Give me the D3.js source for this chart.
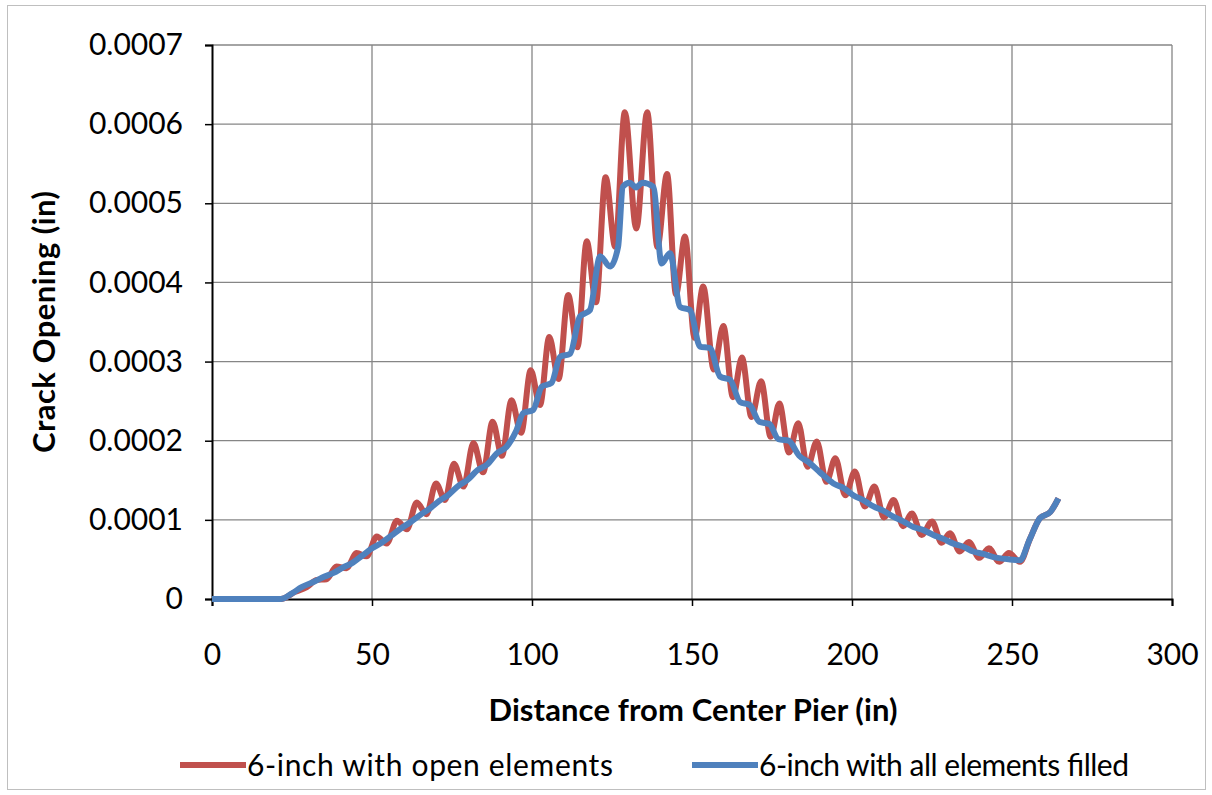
<!DOCTYPE html>
<html>
<head>
<meta charset="utf-8">
<script src="https://cdn.jsdelivr.net/npm/d3@7"></script>
<style>
  body { margin: 0; background: #fff; }
  svg { display: block; }
  text { font-family: Lato, "Liberation Sans", sans-serif; fill: #000; }
</style>
</head>
<body>
<svg width="1212" height="795"></svg>
<script>
// Red series: 6-inch with open elements (distance in, crack opening in)
const openX = [0, 21.5, 26, 29.6, 32.7, 35.8, 38.9, 42, 45.2, 48.3, 51.5, 54.6, 57.8, 60.9, 64, 67, 70, 72.8,
  75.6, 78.6, 81.7, 84.7, 87.7, 90.6, 93.6, 96.6, 99.6, 102.5, 105.4, 108.3, 111.3, 114.2, 117.1, 120,
  123, 126, 129, 132.6, 136, 139.2, 142.2, 145, 147.8, 150.8, 153.5, 156.8, 159.8, 162.8, 165.6, 168.6,
  171.6, 174.6, 177.3, 180.3, 183.2, 186.1, 189, 192, 194.8, 197.9, 200.9, 204, 207, 210, 213, 216,
  218.7, 221.8, 225, 228, 230.6, 233.7, 236.5, 239.8, 242.8, 246, 249, 252.5, 255.5, 258.7, 262, 264.5];
const openY = [0, 0, 0.000009, 0.000015, 0.000024, 0.000025, 0.000041, 0.000039, 0.000058, 0.000054, 0.000079, 0.00007,
  0.000099, 0.000088, 0.000122, 0.000107, 0.000146, 0.000125, 0.000171, 0.000142, 0.000197, 0.00016,
  0.000224, 0.000181, 0.000251, 0.00021, 0.000289, 0.000245, 0.000331, 0.000278, 0.000384, 0.000318,
  0.000452, 0.000375, 0.000533, 0.000445, 0.000615, 0.000468, 0.000615, 0.000445, 0.000537, 0.000385,
  0.000458, 0.00033, 0.000395, 0.00029, 0.000345, 0.000255, 0.000305, 0.00023, 0.000275, 0.000205,
  0.000247, 0.000185, 0.000222, 0.000167, 0.000199, 0.000148, 0.000178, 0.000131, 0.000161, 0.000117,
  0.000142, 0.000103, 0.000125, 0.000092, 0.000108, 0.000081, 0.000098, 0.000071, 0.000083, 0.00006,
  0.000072, 0.000052, 0.000064, 0.000047, 0.000058, 0.000047, 0.000075, 0.000102, 0.00011, 0.000127];

// Blue series: 6-inch with all elements filled
const filledX = [0, 21.5, 25, 28, 32, 35, 38, 41, 44, 47, 50, 53, 56, 59, 62, 65, 68, 71, 74, 77, 80, 83, 86,
  89, 92, 95, 97.3, 100.4, 103, 106.1, 108.8, 111.9, 115, 118.1, 121.3, 124.4, 126.9, 128.4, 130.5,
  132.5, 134.5, 137.9, 140.5, 143.1, 146.3, 149.4, 152.5, 155.6, 158.8, 161.9, 165, 168.1, 171, 174.2,
  177, 180.2, 183.5, 186.7, 190, 194.2, 197.5, 200.4, 203.5, 206.7, 210, 212.9, 216, 219.2, 222.3,
  225.4, 228.5, 231.7, 234.8, 237.9, 241, 244.2, 247, 249.4, 252.5, 255.5, 258.7, 262, 264.5];
const filledY = [0, 0, 0.000007, 0.000015, 0.000022, 0.000028, 0.000033, 0.00004, 0.000046, 0.000055, 0.000064,
  0.000071, 0.00008, 0.000089, 0.000097, 0.000106, 0.000114, 0.000124, 0.000132, 0.000143, 0.000151,
  0.000163, 0.00017, 0.000184, 0.000192, 0.000212, 0.000235, 0.000239, 0.000268, 0.000273, 0.000306,
  0.00031, 0.000357, 0.000365, 0.000433, 0.00042, 0.000445, 0.000521, 0.000526, 0.00052, 0.000526,
  0.000521, 0.000424, 0.000437, 0.000369, 0.000365, 0.000319, 0.000317, 0.000281, 0.000277, 0.000249,
  0.000245, 0.000224, 0.000221, 0.000202, 0.0002, 0.000181, 0.000172, 0.00016, 0.000146, 0.00014,
  0.000131, 0.000125, 0.000117, 0.000111, 0.000104, 0.000098, 0.000091, 0.000087, 0.000081, 0.000076,
  0.00007, 0.000066, 0.00006, 0.000057, 0.000053, 0.000051, 0.00005, 0.000049, 0.000075, 0.000102,
  0.00011, 0.000127];

const xTicks = [0, 50, 100, 150, 200, 250, 300];
const yTicks = [0, 0.0001, 0.0002, 0.0003, 0.0004, 0.0005, 0.0006, 0.0007];
const seriesNames = ["6-inch with open elements", "6-inch with all elements filled"];
const seriesColors = ["#C0504D", "#4F81BD"];

const svg = d3.select('svg');

// outer chart border
svg.append('rect')
  .attr('x', 7.5).attr('y', 5.5)
  .attr('width', 1198).attr('height', 784)
  .attr('fill', 'none').attr('stroke', '#BFBFBF').attr('stroke-width', 1);

// plot area
const plotLeft = 212, plotTop = 45, width = 960, height = 554;
const chart = svg.append('g').attr('transform', `translate(${plotLeft},${plotTop})`);

const xScale = d3.scaleLinear().domain([0, 300]).range([0, width]);
const yScale = d3.scaleLinear().domain([0, 0.0007]).range([height, 0]);

// gridlines
chart.append('g')
  .selectAll('line.h')
  .data(yTicks.slice(1))
  .join('line')
  .attr('x1', 0).attr('x2', width)
  .attr('y1', d => yScale(d)).attr('y2', d => yScale(d))
  .attr('stroke', '#868686').attr('stroke-width', 1.3);

chart.append('g')
  .selectAll('line.v')
  .data(xTicks.slice(1))
  .join('line')
  .attr('y1', 0).attr('y2', height)
  .attr('x1', d => xScale(d)).attr('x2', d => xScale(d))
  .attr('stroke', '#868686').attr('stroke-width', 1.3);

// axes
const yAxis = chart.append('g')
  .call(d3.axisLeft(yScale).tickValues(yTicks).tickSize(7).tickPadding(22)
    .tickFormat(d => d === 0 ? '0' : d3.format('.4f')(d)));
const xAxis = chart.append('g')
  .attr('transform', `translate(0,${height})`)
  .call(d3.axisBottom(xScale).tickValues(xTicks).tickSize(7).tickPadding(38));

[yAxis, xAxis].forEach(a => {
  a.select('.domain').attr('stroke', '#000').attr('stroke-width', 2);
  a.selectAll('.tick line').attr('stroke', '#000').attr('stroke-width', 1.5);
  a.selectAll('text').style('font-size', '30px').style('font-family', 'Lato, sans-serif').attr('fill', '#000');
});
xAxis.selectAll('text').attr('dy', '0.71em');

// series lines (monotone so the flat start doesn't dip below zero)
const line = d3.line()
  .x(d => xScale(d[0]))
  .y(d => yScale(d[1]))
  .curve(d3.curveMonotoneX);

const openData = d3.zip(openX, openY);
const filledData = d3.zip(filledX, filledY);

chart.append('path')
  .datum(openData)
  .attr('d', line)
  .attr('fill', 'none')
  .attr('stroke', seriesColors[0])
  .attr('stroke-width', 6)
  .attr('stroke-linejoin', 'round');

chart.append('path')
  .datum(filledData)
  .attr('d', line)
  .attr('fill', 'none')
  .attr('stroke', seriesColors[1])
  .attr('stroke-width', 6)
  .attr('stroke-linejoin', 'round');

// axis titles
svg.append('text')
  .attr('x', 693).attr('y', 721)
  .attr('text-anchor', 'middle')
  .attr('textLength', 409).attr('lengthAdjust', 'spacing')
  .style('font-size', '31px').style('font-weight', 'bold')
  .text('Distance from Center Pier (in)');

svg.append('text')
  .attr('transform', 'translate(55,322) rotate(-90)')
  .attr('text-anchor', 'middle')
  .attr('textLength', 262).attr('lengthAdjust', 'spacing')
  .style('font-size', '31px').style('font-weight', 'bold')
  .text('Crack Opening (in)');

// legend
const legendX = [180, 692];
const legendW = [366, 370];
const legend = svg.append('g');
seriesNames.forEach((name, i) => {
  legend.append('line')
    .attr('x1', legendX[i]).attr('x2', legendX[i] + 66)
    .attr('y1', 765).attr('y2', 765)
    .attr('stroke', seriesColors[i]).attr('stroke-width', 6);
  legend.append('text')
    .attr('x', legendX[i] + 67).attr('y', 776)
    .attr('textLength', legendW[i]).attr('lengthAdjust', 'spacing')
    .style('font-size', '30px')
    .text(name);
});
</script>
</body>
</html>
